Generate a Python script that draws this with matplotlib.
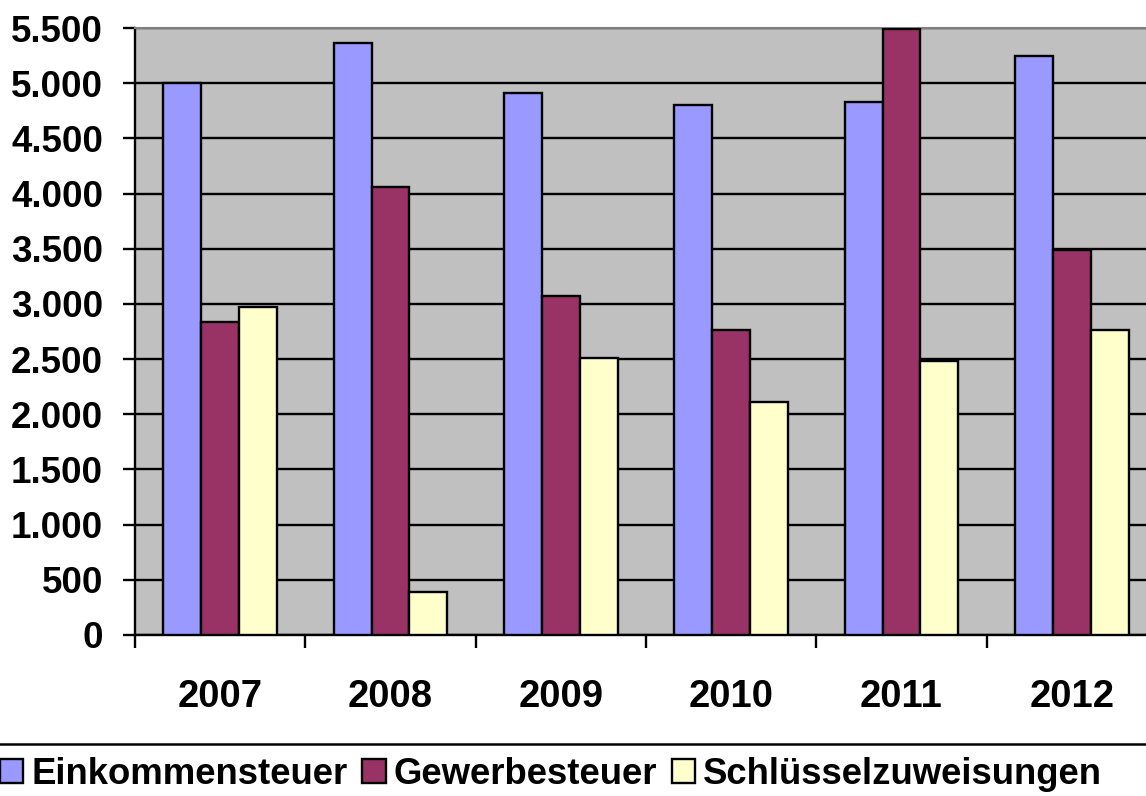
import numpy as np
import matplotlib
matplotlib.use("Agg")
import matplotlib.pyplot as plt
from matplotlib.ticker import FuncFormatter, FixedLocator
from matplotlib.lines import Line2D
from matplotlib.patches import Patch

plt.rcParams["font.family"] = ["Liberation Sans", "DejaVu Sans"]
plt.rcParams["font.weight"] = "bold"

years = ["2007", "2008", "2009", "2010", "2011", "2012"]
einkommensteuer = [5000, 5360, 4910, 4800, 4830, 5250]
gewerbesteuer = [2840, 4060, 3070, 2760, 5490, 3490]
schluessel = [2970, 390, 2510, 2110, 2480, 2760]

series_names = ["Einkommensteuer", "Gewerbesteuer", "Schlüsselzuweisungen"]
colors = ["#9999FF", "#993366", "#FFFFCC"]

fig = plt.figure(figsize=(11.46, 7.96), dpi=100)
ax = fig.add_axes([135 / 1146, 161 / 796, 1022 / 1146, 607 / 796])
ax.set_facecolor("#C0C0C0")

x = np.arange(len(years))
w = 0.223
for i, (vals, col) in enumerate(zip([einkommensteuer, gewerbesteuer, schluessel], colors)):
    ax.bar(x + (i - 1) * w, vals, width=w, color=col, edgecolor="black",
           linewidth=1.7, zorder=3)

ax.set_xlim(-0.5, len(years) - 0.5)
ax.set_ylim(0, 5500)
ax.set_yticks(np.arange(0, 5501, 500))
ax.yaxis.set_major_formatter(FuncFormatter(lambda v, p: f"{v:,.0f}".replace(",", ".")))
ax.grid(axis="y", color="black", linewidth=1.7, zorder=1)

ax.xaxis.set_major_locator(FixedLocator(np.arange(-0.5, len(years), 1.0)))
ax.xaxis.set_major_formatter(FuncFormatter(lambda v, p: ""))
ax.xaxis.set_minor_locator(FixedLocator(x))
ax.set_xticklabels(years, minor=True)
ax.tick_params(axis="x", which="major", length=9, width=1.7, direction="out")
ax.tick_params(axis="x", which="minor", length=0, pad=32, labelsize=27.5)
ax.tick_params(axis="y", length=9, width=1.7, pad=14, labelsize=26.5)

for lab in ax.get_xticklabels(minor=True) + ax.get_yticklabels():
    lab.set_fontweight("bold")

ax.spines["top"].set_color("#808080")
ax.spines["top"].set_linewidth(1.5)
ax.spines["left"].set_linewidth(1.7)
ax.spines["bottom"].set_linewidth(1.7)
ax.spines["right"].set_visible(False)

# obere Linie des Legendenrahmens
fig.add_artist(Line2D([0, 1], [1 - 744 / 796, 1 - 744 / 796], color="black", linewidth=1.8,
                      transform=fig.transFigure))

handles = [Patch(facecolor=c, edgecolor="black", linewidth=1.7) for c in colors]
leg = fig.legend(handles, series_names, loc="center left",
                 bbox_to_anchor=(0.0, 1 - 774 / 796), ncol=3, frameon=False,
                 prop={"size": 26.3, "weight": "bold"},
                 handlelength=0.64, handleheight=0.64, handletextpad=0.22,
                 columnspacing=0.4, borderaxespad=0, borderpad=0)

fig.savefig("out.png", dpi=100)
